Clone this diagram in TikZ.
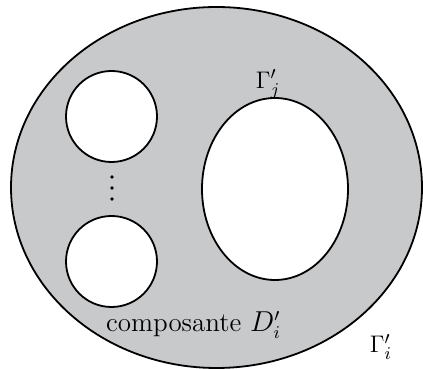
\documentclass[tikz,border=0pt]{standalone}
\usepackage{amsmath}
\definecolor{fondgris}{RGB}{200,201,203}
\begin{document}
\begin{tikzpicture}[x=0.5pt, y=0.5pt, line width=0.9pt,
    bord/.style={draw=black},
    trou/.style={draw=black, fill=white},
    etiq/.style={font=\fontsize{12.5}{15}\selectfont}]
  \useasboundingbox (0,0) rectangle (423,369);

  % Domaine
  \draw[bord, fill=fondgris] (216.5,181.5) ellipse [x radius=205.5, y radius=180.5];

  % Petites composantes
  \draw[trou] (111.5,252.5) circle [radius=45.5];
  \draw[trou] (111.5,107.5) circle [radius=45.5];
  \foreach \y in {192,181,170} {
    \fill (112,\y) circle [radius=1.8];
  }

  % Grande composante
  \draw[trou] (275,180) ellipse [x radius=73, y radius=91];

  % Etiquettes
  \node[etiq] (gj) at (268,285) {$\Gamma'_j$};
  \node[font=\fontsize{13.5}{16}\selectfont, anchor=base] (comp) at (193.5,37.5) {composante $D'_i$};
  \node[etiq] (gi) at (381,22) {$\Gamma'_i$};
\end{tikzpicture}
\end{document}
